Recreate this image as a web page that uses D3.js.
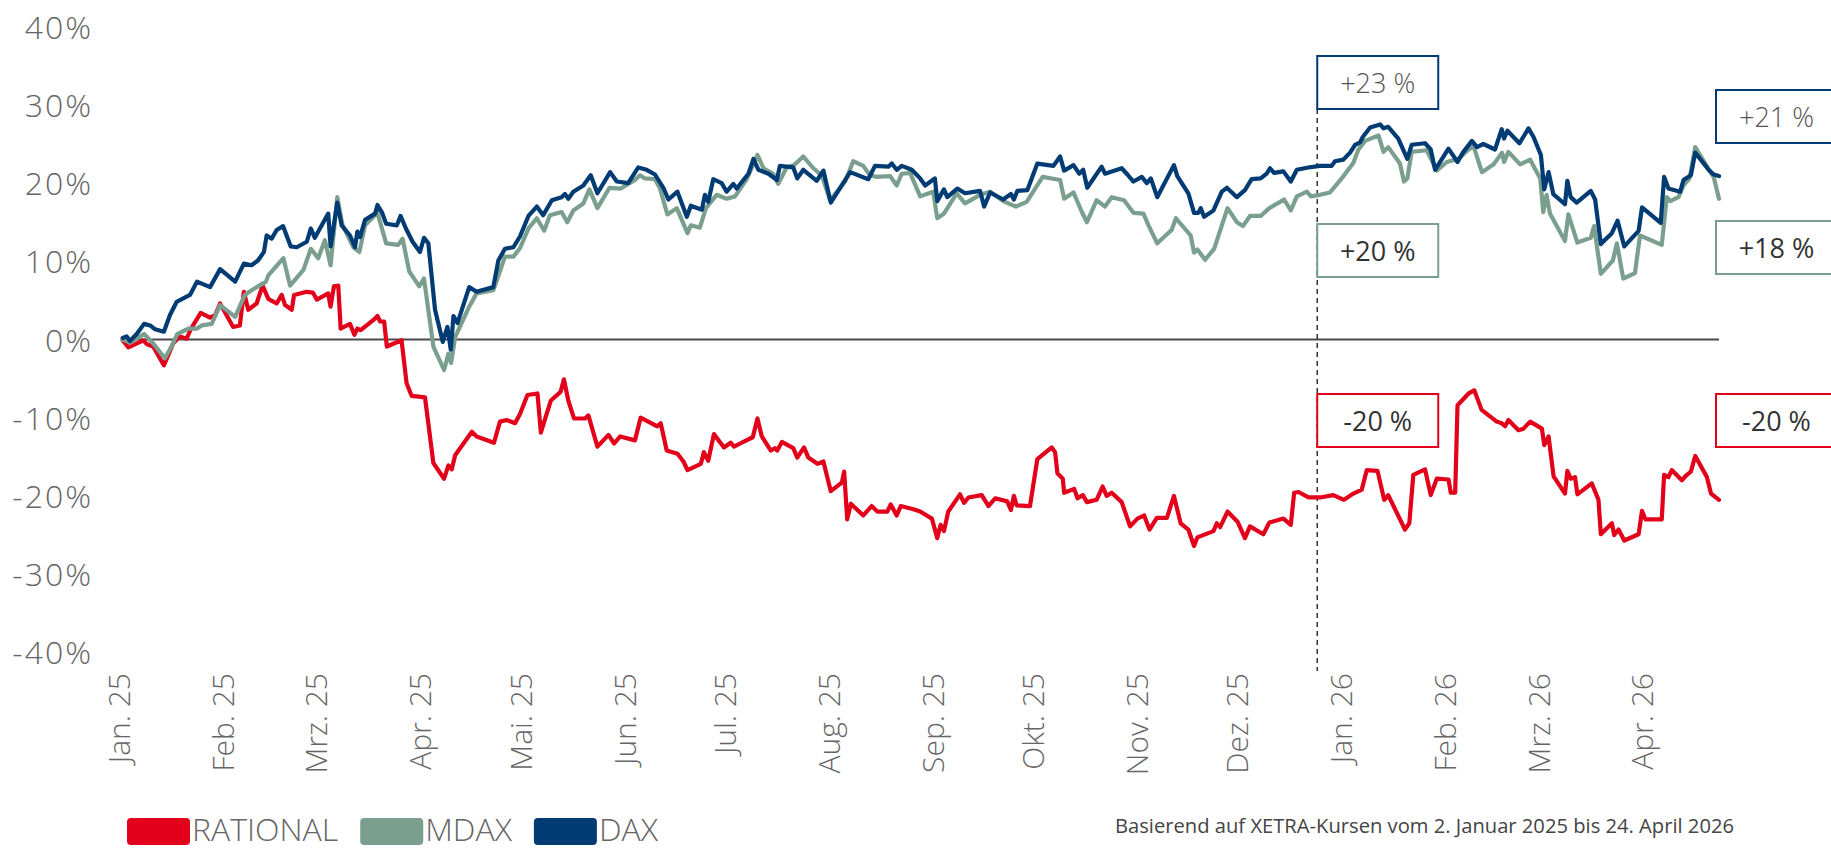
<!DOCTYPE html>
<html>
<head>
<meta charset="utf-8">
<script src="https://cdn.jsdelivr.net/npm/d3@7"></script>
<style>
  html, body { margin: 0; padding: 0; background: #fff; }
  svg { display: block; font-family: "Open Sans", sans-serif; }
</style>
</head>
<body>
<svg id="chart" width="1831" height="850"></svg>
<script>
// days counted from 2 Jan 2025, value = performance in %
const startDate = Date.UTC(2025, 0, 2);
const endDate = Date.UTC(2026, 3, 24);
const markerDate = Date.UTC(2025, 11, 25);

const monthLabels = ['Jan. 25', 'Feb. 25', 'Mrz. 25', 'Apr. 25', 'Mai. 25', 'Jun. 25', 'Jul. 25', 'Aug. 25',
  'Sep. 25', 'Okt. 25', 'Nov. 25', 'Dez. 25', 'Jan. 26', 'Feb. 26', 'Mrz. 26', 'Apr. 26'];
const yTicks = [-40, -30, -20, -10, 0, 10, 20, 30, 40];

const seriesNames = ['RATIONAL', 'MDAX', 'DAX'];
const seriesColors = ['#e2001a', '#7b9f8e', '#003b73'];

const rational = [[0.2,-0.1],[1.9,-1.0],[6.4,-0.1],[7.4,-0.6],[9.3,-0.9],[12.5,-3.3],[15.3,-0.5],[17.3,0.4],[19.3,0.1],[20.5,1.3],[23.5,3.4],[26.3,2.8],[27.8,3.1],[29.3,4.6],[33.2,1.6],[35.2,1.8],[36.4,6.1],[37.7,3.8],[40.2,4.6],[42.0,6.9],[43.7,5.2],[46.2,4.6],[47.7,5.7],[48.7,4.4],[50.7,3.8],[51.4,5.7],[55.2,6.1],[57.0,6.0],[58.2,5.1],[61.6,5.9],[62.3,4.2],[63.3,6.8],[64.6,6.9],[65.3,1.4],[68.1,2.0],[69.4,0.6],[70.3,1.4],[71.3,1.2],[75.1,2.5],[76.3,3.0],[77.1,2.3],[78.3,2.3],[79.1,-0.9],[83.5,-0.1],[85.0,-5.6],[86.5,-7.2],[90.5,-7.4],[93.0,-15.8],[96.2,-17.8],[97.5,-16.1],[98.5,-16.6],[99.5,-14.8],[104.5,-11.8],[105.9,-12.4],[111.1,-13.2],[112.9,-10.5],[114.9,-10.3],[117.4,-10.7],[118.9,-9.5],[121.1,-7.1],[124.1,-6.9],[125.1,-11.9],[128.1,-7.8],[131.0,-6.7],[132.0,-5.1],[133.3,-7.8],[135.0,-10.1],[138.3,-10.1],[139.3,-9.7],[142.0,-13.7],[145.3,-12.2],[147.0,-13.3],[148.8,-12.4],[153.2,-12.9],[154.9,-10.0],[159.9,-11.1],[160.9,-10.7],[162.7,-14.2],[165.9,-14.6],[167.7,-15.6],[168.9,-16.7],[172.9,-15.9],[173.8,-14.4],[175.1,-15.5],[176.8,-12.1],[179.8,-13.8],[181.8,-13.2],[182.8,-13.7],[184.6,-13.3],[188.4,-12.5],[189.8,-10.1],[191.1,-12.4],[193.8,-14.2],[195.0,-13.9],[195.7,-14.2],[197.1,-13.1],[200.5,-13.9],[201.7,-15.1],[203.7,-13.8],[205.0,-15.1],[207.7,-15.9],[209.5,-15.6],[211.7,-19.4],[215.0,-18.3],[215.7,-16.9],[216.6,-23.0],[217.7,-21.0],[221.4,-22.5],[223.9,-21.3],[225.6,-22.0],[228.6,-22.0],[229.6,-21.1],[231.4,-22.5],[232.6,-21.3],[236.4,-21.7],[238.4,-22.0],[241.9,-22.9],[243.5,-25.4],[244.5,-23.7],[245.5,-24.5],[246.8,-22.0],[250.3,-19.8],[251.5,-20.9],[252.8,-20.2],[256.8,-19.9],[258.8,-21.3],[260.8,-20.3],[264.4,-20.7],[265.5,-21.8],[266.4,-20.0],[267.2,-21.2],[271.2,-21.3],[273.4,-15.3],[277.7,-13.8],[278.7,-14.4],[279.4,-17.1],[281.0,-17.8],[281.4,-19.6],[284.4,-19.1],[285.4,-20.3],[287.0,-19.9],[288.2,-20.8],[291.1,-20.5],[292.9,-18.8],[294.1,-20.0],[295.6,-19.6],[298.6,-20.8],[301.1,-23.9],[303.3,-22.9],[305.3,-22.5],[306.9,-24.3],[309.1,-22.8],[312.1,-22.8],[314.2,-20.0],[316.2,-23.5],[318.5,-24.3],[320.2,-26.4],[321.2,-25.3],[326.0,-24.5],[327.0,-23.5],[328.0,-24.0],[330.2,-22.0],[333.2,-23.3],[335.4,-25.4],[336.9,-23.9],[340.9,-24.9],[342.7,-23.4],[346.9,-22.9],[349.1,-23.7],[350.1,-19.6],[351.4,-19.5],[354.4,-20.2],[357.8,-20.2],[361.8,-19.9],[365.0,-20.5],[367.8,-19.7],[370.3,-19.2],[371.8,-16.7],[375.0,-16.8],[377.0,-20.5],[378.2,-19.9],[383.2,-24.3],[384.5,-23.5],[385.7,-17.3],[389.2,-16.6],[390.9,-19.9],[392.7,-17.8],[396.2,-17.9],[396.9,-19.6],[398.2,-19.6],[398.9,-8.4],[402.2,-6.9],[403.9,-6.5],[406.1,-9.0],[410.6,-10.5],[412.1,-10.7],[413.1,-11.1],[414.1,-10.3],[417.1,-11.6],[418.6,-11.4],[420.6,-10.5],[424.1,-11.4],[424.8,-13.5],[426.1,-12.4],[427.6,-17.5],[431.0,-19.7],[431.7,-16.8],[432.7,-17.8],[434.0,-17.6],[434.7,-19.8],[439.0,-18.4],[441.0,-20.5],[441.7,-24.9],[445.0,-23.5],[445.7,-25.0],[447.0,-24.3],[448.7,-25.7],[453.0,-24.9],[454.0,-21.9],[455.0,-23.0],[459.9,-23.0],[460.6,-17.3],[461.9,-17.6],[462.9,-16.7],[465.9,-18.0],[467.4,-17.3],[468.6,-16.9],[469.9,-14.9],[473.4,-17.6],[474.6,-19.7],[477,-20.5]];

const mdax = [[0.2,0],[2.4,-0.4],[6.6,0.7],[9.3,-0.5],[12.8,-2.4],[14.8,-0.9],[16.5,0.7],[19.8,1.4],[22.4,1.4],[23.8,1.8],[26.8,2.0],[29.3,4.4],[33.8,2.9],[36.7,5.7],[38.7,6.3],[43.0,7.4],[43.7,8.2],[48.2,10.4],[50.2,6.9],[54.2,8.9],[56.4,11.6],[58.6,10.4],[60.6,12.7],[62.3,9.5],[64.3,18.2],[65.9,14.6],[69.1,11.8],[70.9,11.2],[72.6,14.6],[76.3,16.2],[78.9,12.3],[82.5,12.1],[83.8,12.9],[85.8,8.7],[88.8,6.8],[90.2,7.8],[93.0,-0.9],[96.2,-3.9],[97.5,-1.8],[98.3,-3.0],[99.5,0.3],[103.7,4.2],[105.9,5.9],[110.9,6.3],[114.4,10.6],[116.9,10.6],[118.9,11.7],[121.4,14.2],[123.9,15.5],[126.1,13.9],[127.8,15.9],[131.3,16.3],[133.0,15.0],[134.8,16.5],[137.8,17.4],[139.6,19.2],[142.0,16.8],[145.6,19.4],[149.0,19.3],[153.2,20.4],[154.7,21.0],[156.2,20.6],[159.2,20.5],[160.7,19.3],[162.9,16.0],[165.7,16.8],[168.9,13.6],[169.9,14.6],[172.6,14.3],[174.4,16.8],[177.6,18.5],[180.6,18.0],[183.1,18.3],[186.6,20.5],[189.8,23.6],[191.6,21.9],[194.5,21.2],[196.0,19.9],[198.5,22.0],[200.7,22.3],[203.5,23.4],[206.5,21.9],[209.0,21.0],[211.5,17.8],[216.0,20.2],[218.4,22.8],[221.4,22.2],[223.4,21.0],[225.4,20.8],[229.4,20.9],[231.4,19.7],[232.9,21.2],[235.4,21.3],[238.4,18.3],[242.3,18.9],[243.5,15.5],[245.5,16.1],[249.3,18.7],[251.8,17.4],[256.3,18.5],[259.3,18.9],[263.2,17.7],[267.0,17.0],[270.2,17.6],[275.0,20.8],[280.2,20.4],[281.4,18.0],[284.2,18.8],[286.7,16.3],[288.2,15.0],[291.1,17.8],[293.6,17.0],[295.6,18.2],[299.3,17.8],[302.1,16.2],[305.1,16.1],[306.6,14.6],[309.2,12.3],[313.5,14.0],[314.8,15.5],[319.2,13.3],[320.2,11.1],[321.2,11.5],[323.5,10.2],[326.2,11.6],[330.2,16.8],[333.0,15.0],[334.8,14.5],[336.9,15.8],[340.1,15.8],[342.7,16.8],[347.1,17.9],[349.1,16.5],[350.9,18.3],[353.9,18.9],[355.1,18.3],[357.8,18.5],[360.8,18.8],[364.3,20.6],[367.8,22.6],[369.3,24.3],[371.3,25.4],[375.3,26.1],[376.8,24.0],[378.2,24.6],[381.7,22.5],[382.9,20.2],[383.9,20.6],[385.2,24.0],[389.7,24.2],[392.7,21.6],[395.7,22.7],[399.2,23.1],[402.2,24.3],[403.7,24.7],[406.2,21.4],[409.7,22.4],[412.2,23.9],[412.8,22.7],[414.1,24.0],[417.6,22.4],[420.6,23.0],[423.6,20.6],[424.5,16.3],[425.5,18.5],[426.5,16.1],[431.0,12.6],[432.0,16.0],[434.7,12.4],[438.7,13.0],[439.7,14.5],[441.7,8.4],[445.3,10.1],[446.5,12.3],[448.4,7.8],[451.9,8.5],[453.4,13.3],[459.9,12.1],[461.4,18.2],[462.4,17.7],[464.9,18.2],[466.4,19.7],[468.2,20.6],[469.9,24.6],[474.4,21.4],[475.4,20.8],[477,18.0]];

const dax = [[0.2,0.2],[1.4,0.4],[2.4,-0.2],[4.4,0.7],[6.6,2.0],[8.4,1.8],[9.9,1.3],[12.5,1.0],[14.3,3.1],[16.3,4.8],[20.3,5.7],[22.4,7.4],[26.3,6.7],[29.3,9.0],[33.8,7.4],[36.4,9.7],[38.7,9.5],[40.6,10.1],[42.4,11.2],[43.2,13.3],[44.7,12.9],[46.2,14.0],[48.1,14.5],[50.4,11.9],[52.2,11.8],[55.2,12.5],[56.4,14.2],[57.6,13.0],[61.6,16.1],[62.3,11.9],[64.3,17.5],[65.6,14.6],[68.1,13.3],[69.6,11.8],[70.3,13.8],[71.1,13.1],[72.6,15.3],[75.6,16.1],[76.3,17.2],[77.6,16.3],[78.9,14.8],[82.1,14.6],[83.2,15.8],[84.8,14.2],[86.8,12.5],[89.0,11.2],[90.2,13.0],[91.5,12.3],[93.5,3.8],[95.8,-0.3],[97.2,1.6],[98.2,-1.3],[99.0,3.0],[100.2,2.1],[103.7,6.7],[105.9,6.1],[110.9,6.7],[112.4,10.1],[114.4,11.6],[116.9,11.8],[118.9,13.2],[121.4,15.8],[123.9,17.0],[125.8,15.9],[128.4,17.8],[131.3,18.2],[132.3,18.6],[133.3,18.0],[134.8,18.9],[137.8,19.7],[140.0,21.0],[142.0,18.7],[145.8,21.4],[147.8,20.2],[151.2,20.0],[154.2,22.0],[156.7,21.7],[159.2,21.1],[161.7,19.4],[163.2,17.9],[165.9,18.9],[168.7,15.7],[169.9,17.1],[173.2,16.6],[174.1,18.5],[175.1,17.6],[176.6,20.5],[179.1,20.0],[180.6,18.9],[182.6,19.9],[183.6,19.3],[187.1,21.2],[188.6,23.1],[190.1,21.7],[193.1,21.2],[195.6,20.4],[196.5,22.2],[200.5,22.0],[201.7,20.6],[203.5,21.7],[207.5,20.3],[209.5,21.6],[211.7,17.5],[217.5,21.4],[222.9,20.5],[224.9,22.2],[228.9,22.1],[229.9,22.5],[231.4,21.7],[232.9,22.2],[235.9,21.7],[238.4,20.6],[239.9,19.7],[242.8,20.6],[243.5,17.7],[245.5,19.2],[246.5,18.2],[249.5,19.3],[251.8,18.7],[256.3,19.0],[257.5,17.0],[259.3,18.8],[263.2,17.9],[265.5,18.6],[266.4,17.9],[267.4,19.0],[270.4,19.1],[273.4,22.5],[278.2,22.2],[280.2,23.4],[281.4,21.6],[284.2,22.3],[285.9,21.2],[287.1,21.7],[288.3,19.4],[292.6,22.1],[293.6,21.2],[298.6,21.9],[300.3,21.1],[302.1,20.2],[304.6,20.8],[306.1,20.0],[307.3,20.6],[309.2,18.2],[314.2,22.3],[315.2,20.9],[318.5,18.7],[320.2,16.2],[321.5,16.2],[322.2,16.8],[323.2,15.7],[326.0,16.5],[328.5,18.9],[330.0,19.4],[333.0,18.2],[335.4,19.1],[337.4,20.5],[340.1,20.6],[341.9,21.2],[342.9,21.9],[344.1,21.3],[346.9,21.5],[349.1,20.2],[350.9,21.7],[354.3,22.0],[357.8,22.2],[361.3,22.2],[362.3,22.8],[364.8,23.0],[366.8,23.9],[368.3,24.9],[369.8,25.2],[370.6,25.9],[372.8,27.1],[375.8,27.5],[376.8,27.0],[378.2,27.2],[381.2,25.7],[383.9,23.1],[385.2,24.9],[389.2,25.1],[390.9,24.3],[392.2,21.7],[396.2,24.4],[398.9,22.7],[400.5,23.9],[403.2,25.4],[404.7,24.6],[406.6,25.0],[410.1,24.3],[412.1,26.9],[412.8,25.7],[413.8,26.7],[417.4,25.1],[420.1,27.0],[421.6,25.9],[423.8,23.6],[424.8,19.2],[426.1,21.4],[427.5,18.6],[431.0,17.3],[431.7,20.3],[432.7,18.2],[434.5,17.5],[438.7,19.0],[440.0,17.9],[441.7,12.2],[445.0,13.6],[446.7,15.2],[448.7,11.9],[453.0,13.9],[454.0,16.9],[459.6,14.9],[460.6,20.8],[461.9,19.3],[465.4,18.9],[466.4,20.4],[468.6,21.0],[469.9,23.9],[473.9,21.7],[475.4,21.1],[477,20.9]];

// boxes: year-end performance and performance to date (DAX, MDAX, RATIONAL)
const yearEndLabels = ['+23 %', '+20 %', '-20 %'];
const toDateLabels = ['+21 %', '+18 %', '-20 %'];
const sourceNote = 'Basierend auf XETRA-Kursen vom 2. Januar 2025 bis 24. April 2026';

const svg = d3.select('#chart');
const dayMs = 864e5;
const toDate = d => new Date(startDate + d * dayMs);

const x = d3.scaleUtc()
  .domain([new Date(startDate), new Date(endDate)])
  .range([122, 1719]);
const y = d3.scaleLinear()
  .domain([-40, 40])
  .range([652.3, 26.7]);

// y axis
const yAxis = svg.append('g')
  .attr('transform', 'translate(93,0)')
  .call(d3.axisLeft(y).tickValues(yTicks).tickFormat(d => d + '%').tickSize(0).tickPadding(0));
yAxis.select('.domain').remove();
yAxis.selectAll('text')
  .attr('dy', '0.36em')
  .attr('fill', '#666')
  .style('font-family', '"Open Sans", sans-serif')
  .style('font-size', '32px')
  .style('letter-spacing', '2px')
  .style('font-weight', 300);

// x axis
const monthStarts = d3.utcMonth.range(Date.UTC(2025, 0, 1), Date.UTC(2026, 4, 1));
const xAxis = svg.append('g')
  .attr('transform', 'translate(0,673)')
  .call(d3.axisBottom(x).tickValues(monthStarts).tickFormat((d, i) => monthLabels[i]).tickSize(0).tickPadding(0));
xAxis.select('.domain').remove();
xAxis.selectAll('text')
  .attr('x', 0)
  .attr('y', 0)
  .attr('dy', '0.36em')
  .attr('transform', 'rotate(-90)')
  .attr('fill', '#666')
  .style('text-anchor', 'end')
  .style('font-family', '"Open Sans", sans-serif')
  .style('font-size', '30px')
  .style('font-weight', 300);

// zero line
svg.append('line')
  .attr('x1', x(new Date(startDate)))
  .attr('x2', x(new Date(endDate)))
  .attr('y1', y(0))
  .attr('y2', y(0))
  .attr('stroke', '#4a4a4a')
  .attr('stroke-width', 2);

// year-end marker
const boxH = 53;
const boxW = 121;
const leftTops = [56, 224, 394];
const rightTops = [90, 221, 394];

svg.append('line')
  .attr('x1', x(new Date(markerDate)))
  .attr('x2', x(new Date(markerDate)))
  .attr('y1', leftTops[0] + boxH)
  .attr('y2', 671)
  .attr('stroke', '#333')
  .attr('stroke-width', 1.5)
  .attr('stroke-dasharray', '5,4');

// lines
const line = d3.line()
  .x(d => x(toDate(d[0])))
  .y(d => y(d[1]));

[rational, mdax, dax].forEach((series, i) => {
  svg.append('path')
    .datum(series)
    .attr('fill', 'none')
    .attr('stroke', seriesColors[i])
    .attr('stroke-width', 4.2)
    .attr('stroke-linejoin', 'round')
    .attr('stroke-linecap', 'round')
    .attr('d', line);
});

// annotation boxes
const boxColors = [seriesColors[2], seriesColors[1], seriesColors[0]];
const boxWeights = [300, 400, 400];
const boxFill = ['#555', '#333', '#333'];

const drawBox = (left, top, label, i) => {
  svg.append('rect')
    .attr('x', left)
    .attr('y', top)
    .attr('width', boxW)
    .attr('height', boxH)
    .attr('fill', '#fff')
    .attr('stroke', boxColors[i])
    .attr('stroke-width', 2);
  svg.append('text')
    .attr('x', left + boxW / 2)
    .attr('y', top + 37)
    .attr('text-anchor', 'middle')
    .attr('fill', boxFill[i])
    .style('font-size', '27px')
    .style('font-weight', boxWeights[i])
    .text(label);
};

yearEndLabels.forEach((label, i) => drawBox(x(new Date(markerDate)), leftTops[i], label, i));
toDateLabels.forEach((label, i) => drawBox(x(new Date(endDate)) - 3, rightTops[i], label, i));

// legend
let lx = 127;
seriesNames.forEach((name, i) => {
  svg.append('rect')
    .attr('x', lx)
    .attr('y', 818)
    .attr('width', 63)
    .attr('height', 27)
    .attr('rx', 4)
    .attr('fill', seriesColors[i]);
  const t = svg.append('text')
    .attr('x', lx + 65)
    .attr('y', 841)
    .attr('fill', '#666')
    .style('font-size', '32px')
    .style('font-weight', 300)
    .text(name);
  lx += 65 + t.node().getComputedTextLength() + 22;
});

// source note
svg.append('text')
  .attr('x', 1734)
  .attr('y', 833)
  .attr('text-anchor', 'end')
  .attr('fill', '#444')
  .attr('textLength', 619)
  .attr('lengthAdjust', 'spacingAndGlyphs')
  .style('font-size', '20px')
  .text(sourceNote);
</script>
</body>
</html>
